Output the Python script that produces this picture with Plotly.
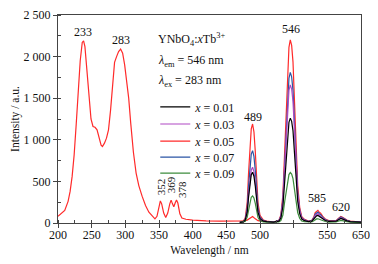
import plotly.graph_objects as go

# Excitation spectrum (lambda_em = 546 nm), x = 0.05
ex_x = [200, 205, 210, 215, 218, 221, 224, 227, 230, 233, 236, 238, 240, 243, 246, 249, 252, 255,
        258, 261, 264, 266, 269, 272, 275, 278, 281, 284, 287, 290, 293, 296, 299, 302, 305, 308,
        312, 316, 320, 325, 330, 335, 340, 344, 347, 350, 352, 354, 357, 360, 363, 366, 368, 370,
        372, 374, 376, 378, 381, 384, 390, 400, 410, 420, 440, 460, 475, 481, 485, 489, 493, 497, 505]
ex_y = [80, 110, 150, 260, 380, 560, 820, 1180, 1600, 1950, 2170, 2190, 2120, 1850, 1500, 1250, 1160, 1150,
        1120, 1020, 935, 920, 960, 1020, 1120, 1350, 1700, 1930, 2000, 2060, 2090, 2040, 1900, 1720, 1500, 1200,
        850, 600, 450, 320, 210, 130, 80, 50, 80, 200, 265, 230, 120, 65, 120, 230, 275, 230,
        195, 240, 275, 240, 110, 60, 45, 35, 28, 25, 22, 22, 24, 35, 60, 78, 50, 28, 20]

# Emission spectra (lambda_ex = 283 nm)
em_x = [470, 475, 478, 481, 483, 485, 487, 489, 491, 493, 495, 497, 500, 505, 510, 520, 528, 531,
        534, 537, 539, 541, 543, 545, 547, 549, 551, 553, 556, 559, 562, 566, 572, 577, 580, 582,
        584, 586, 588, 590, 593, 597, 602, 608, 613, 616, 618, 620, 622, 625, 629, 634, 640, 650]
em_001 = [8, 14, 34, 130, 310, 478, 580, 610, 562, 442, 280, 130, 52, 22, 16, 10, 22, 60,
          198, 572, 822, 1072, 1210, 1260, 1222, 1110, 885, 572, 260, 110, 48, 28, 16, 22, 46, 74,
          86, 90, 78, 70, 50, 30, 20, 18, 21, 37, 48, 55, 50, 37, 26, 17, 12, 10]
em_003 = [8, 15, 36, 142, 340, 525, 637, 670, 617, 485, 307, 142, 56, 23, 16, 10, 26, 76,
          258, 752, 1082, 1412, 1594, 1660, 1610, 1462, 1165, 752, 340, 142, 60, 34, 18, 25, 55, 90,
          105, 110, 95, 85, 60, 35, 22, 20, 22, 40, 52, 60, 55, 40, 27, 17, 12, 10]
em_005 = [10, 22, 57, 246, 600, 930, 1131, 1190, 1096, 860, 541, 246, 93, 34, 22, 12, 32, 98,
          338, 995, 1433, 1871, 2112, 2200, 2134, 1937, 1543, 995, 448, 185, 76, 43, 24, 33, 75, 124,
          145, 152, 131, 117, 82, 47, 29, 26, 29, 53, 70, 80, 73, 53, 36, 22, 15, 12]
em_007 = [9, 18, 44, 182, 440, 680, 827, 870, 801, 629, 397, 182, 70, 27, 19, 11, 28, 82,
          280, 820, 1180, 1540, 1738, 1810, 1756, 1594, 1270, 820, 370, 154, 64, 37, 20, 28, 64, 106,
          124, 130, 112, 100, 70, 40, 24, 22, 25, 47, 63, 72, 66, 47, 32, 19, 13, 11]
em_009 = [6, 9, 19, 70, 166, 256, 310, 326, 300, 236, 150, 70, 28, 12, 9, 6, 12, 30,
          96, 276, 396, 516, 582, 606, 588, 534, 426, 276, 126, 54, 24, 15, 9, 13, 26, 42,
          49, 51, 44, 40, 29, 18, 11, 10, 12, 21, 27, 31, 28, 21, 15, 10, 7, 6]

# Peak labels (text, wavelength position, label centre height)
peak_text = ["233", "283", "489", "546", "585", "620"]
peak_x = [237, 293, 489, 546, 585, 620]
peak_y = [2300, 2200, 1280, 2330, 300, 190]
rot_text = ["352", "369", "378"]
rot_x = [353, 368, 383]
rot_y = [430, 455, 400]

x_ticks = [200, 250, 300, 350, 400, 450, 500, 550, 600, 650]
x_ticktext = ["200", "250", "300", "350", "400", "450", "500", "", "550", "650"]
y_ticks = [0, 500, 1000, 1500, 2000, 2500]
y_ticktext = ["0", "500", "1 000", "1 500", "2 000", "2 500"]

# (legend label, data, colour, legend id, legend row position in paper units)
series = [
    ("<i>x</i> = 0.05", em_005, "#ff2a2a", "legend3", 0.394),
    ("<i>x</i> = 0.07", em_007, "#2a55a5", "legend4", 0.317),
    ("<i>x</i> = 0.03", em_003, "#b048c4", "legend2", 0.476),
    ("<i>x</i> = 0.09", em_009, "#3c8c3c", "legend5", 0.240),
    ("<i>x</i> = 0.01", em_001, "#000000", "legend", 0.558),
]

FONT = "Liberation Serif"
TXT = "#111111"
fig = go.Figure()
fig.add_trace(go.Scatter(x=ex_x, y=ex_y, mode="lines", line=dict(color="#ff2a2a", width=1.2),
                         showlegend=False))
for name, ys, col, leg, _ in series:
    fig.add_trace(go.Scatter(x=em_x, y=ys, mode="lines", name=name, legend=leg,
                             line=dict(color=col, width=1.2)))

ann = []
for t, x, y in zip(peak_text, peak_x, peak_y):
    ann.append(dict(x=x, y=y, text=t, showarrow=False, yanchor="middle", xanchor="center",
                    font=dict(size=12, family=FONT, color=TXT)))
for t, x, y in zip(rot_text, rot_x, rot_y):
    ann.append(dict(x=x, y=y, text=t, showarrow=False, textangle=-90, yanchor="middle",
                    xanchor="center", font=dict(size=11, family=FONT, color=TXT)))

info = ["YNbO<sub>4</sub>:<i>x</i>Tb<sup>3+</sup>",
        "<i>λ</i><sub>em</sub> = 546 nm",
        "<i>λ</i><sub>ex</sub> = 283 nm"]
info_y = [0.88, 0.78, 0.685]
for t, y in zip(info, info_y):
    ann.append(dict(x=0.325, y=y, xref="paper", yref="paper", xanchor="left", yanchor="middle",
                    showarrow=False, align="left", text=t,
                    font=dict(size=12, family=FONT, color=TXT)))

AX = "#444444"
legends = {}
for _, _, _, leg, ly in series:
    legends[leg] = dict(x=0.321, y=ly, xanchor="left", yanchor="middle", bgcolor="rgba(0,0,0,0)",
                        font=dict(size=12, family=FONT, color=TXT), itemwidth=30)

# The page body adds an 8 px margin, so the figure is sized 8 px smaller.
fig.update_layout(
    width=370, height=256,
    margin=dict(l=50, r=17, t=7, b=41, autoexpand=False),
    paper_bgcolor="white", plot_bgcolor="white",
    font=dict(family=FONT, size=12, color=TXT),
    annotations=ann,
    xaxis=dict(range=[200, 650], tickvals=x_ticks, ticktext=x_ticktext, automargin=False,
               showline=True, linecolor=AX, linewidth=1, mirror=True,
               ticks="outside", ticklen=4, tickcolor=AX, showgrid=False, zeroline=False,
               ticklabelstandoff=-3,
               minor=dict(ticks="inside", ticklen=3, dtick=25, tick0=200, tickcolor=AX, showgrid=False),
               tickfont=dict(size=12, family=FONT, color=TXT),
               title=dict(text="Wavelength / nm", font=dict(size=11.5, family=FONT, color=TXT), standoff=4)),
    yaxis=dict(range=[0, 2500], tickvals=y_ticks, ticktext=y_ticktext, automargin=False,
               showline=True, linecolor=AX, linewidth=1, mirror=True,
               ticks="outside", ticklen=4, tickcolor=AX, showgrid=False, zeroline=False,
               minor=dict(ticks="inside", ticklen=3, dtick=250, tick0=0, tickcolor=AX, showgrid=False),
               tickfont=dict(size=12, family=FONT, color=TXT),
               title=dict(text="Intensity / a.u.", font=dict(size=11.5, family=FONT, color=TXT), standoff=1)),
    **legends,
)

fig.write_html("out.html")
